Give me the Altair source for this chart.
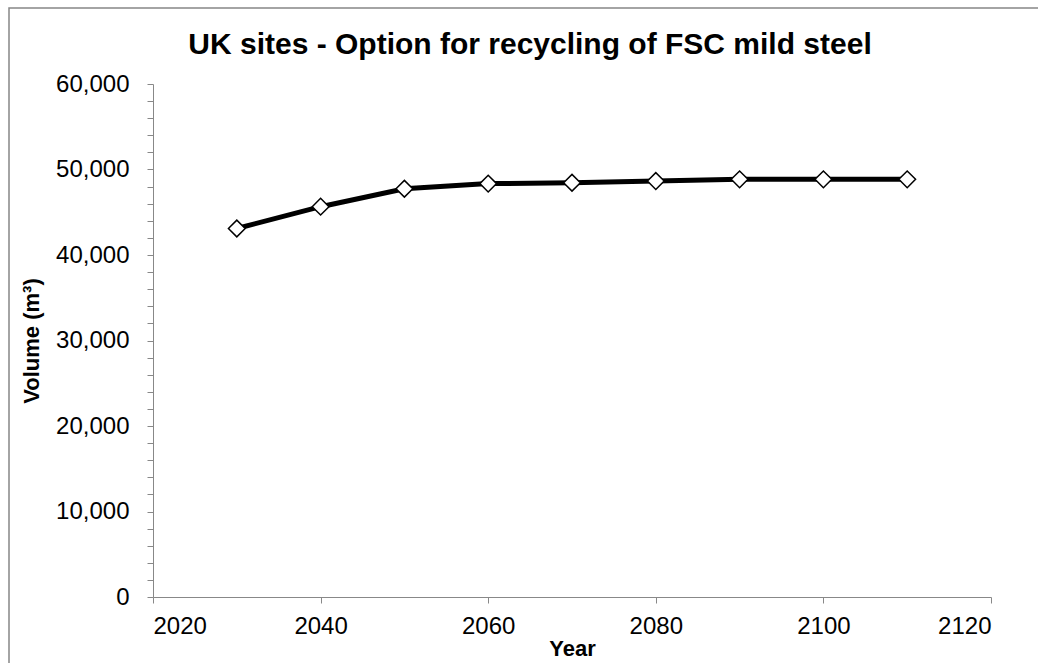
import altair as alt
import pandas as pd

years = [2030, 2040, 2050, 2060, 2070, 2080, 2090, 2100, 2110]
volumes = [43100, 45650, 47750, 48350, 48450, 48650, 48850, 48850, 48850]

x_ticks = [2020, 2040, 2060, 2080, 2100, 2120]
y_ticks = list(range(0, 60001, 2000))

df = pd.DataFrame({"Year": years, "Volume": volumes})

FONT = "Liberation Sans"
GREY = "#868686"

x_enc = alt.X(
    "Year:Q",
    scale=alt.Scale(domain=[2020, 2120], nice=False, zero=False),
    axis=alt.Axis(
        values=x_ticks, format="d", title="Year", grid=False, labelOverlap=False,
        labelFontSize=24, titleFontSize=22, titleFontWeight="bold",
        labelPadding=11, titlePadding=0, tickSize=6,
    ),
)
y_enc = alt.Y(
    "Volume:Q",
    scale=alt.Scale(domain=[0, 60000], nice=False),
    axis=alt.Axis(
        values=y_ticks, grid=False, labelOverlap=False,
        labelExpr="datum.value % 10000 == 0 ? format(datum.value, ',') : ''",
        title="Volume (m³)",
        labelFontSize=24, titleFontSize=22, titleFontWeight="bold",
        labelPadding=18, titlePadding=12, tickSize=6,
    ),
)

base = alt.Chart(df).encode(x=x_enc, y=y_enc)
line = base.mark_line(color="black", strokeWidth=5)
points = base.mark_point(
    shape="diamond", filled=True, fill="white", stroke="black",
    strokeWidth=1.5, size=280, opacity=1,
)

frame = alt.Chart(pd.DataFrame({"a": [0]})).mark_rect(
    fill="transparent", stroke=GREY, strokeWidth=1.5, clip=False
).encode(
    x=alt.value(-144), x2=alt.value(1000),
    y=alt.value(-76), y2=alt.value(700),
)

chart = alt.layer(line, points, frame).properties(
    width=838,
    height=513,
    padding={"left": 153, "top": 84, "right": 47, "bottom": 66},
    autosize=alt.AutoSizeParams(type="none"),
    view=alt.ViewBackground(strokeOpacity=0, strokeWidth=0),
    title=alt.TitleParams(
        "UK sites - Option for recycling of FSC mild steel",
        fontSize=30, fontWeight="bold", font=FONT, anchor="middle",
        dx=-42, dy=63, offset=10, color="black",
    ),
).configure_view(strokeOpacity=0, strokeWidth=0).configure_axis(
    grid=False, domainColor=GREY, tickColor=GREY, domainWidth=1.5, tickWidth=1.5,
    labelFont=FONT, titleFont=FONT, labelColor="black", titleColor="black",
).configure(background="white")

chart.save("out.html", embed_options={"renderer": "svg", "actions": False})
